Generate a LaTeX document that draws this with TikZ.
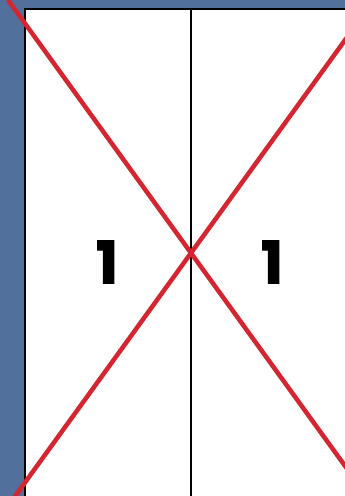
\documentclass[tikz,border=0pt]{standalone}
\usepackage{fontspec}
\setmainfont{Poppins}[BoldFont={* Bold}]
\newfontfamily\digitfont{Poppins Bold}[FakeBold=2]
\definecolor{bgblue}{HTML}{52709C}
\definecolor{xred}{HTML}{D42530}
\tikzset{
  panelline/.style={draw=black, line width=2pt},
  crossline/.style={draw=xred, line width=4.5pt},
  digit/.style={font=\digitfont\fontsize{58}{58}\selectfont, inner sep=0pt}
}
\begin{document}
\begin{tikzpicture}[x=1pt,y=-1pt]
\useasboundingbox (0,0) rectangle (345,496);
\fill[bgblue] (0,0) rectangle (345,496);
\fill[white] (25,9) rectangle (345,496);
\coordinate (tl) at (25,9);
\coordinate (tr) at (346,9);
\coordinate (bl) at (25,497);
\coordinate (mt) at (191,9);
\coordinate (mb) at (191,497);
\draw[panelline] (tr) -- (tl) -- (bl);
\draw[panelline] (mt) -- (mb);
\node[digit] (n1) at (107,262) {1};
\node[digit] (n2) at (272,262) {1};
\begin{scope}
\clip (0,0) rectangle (345,496);
\coordinate (a1) at (8,0);
\coordinate (a2) at (374,506);
\coordinate (b1) at (8,506);
\coordinate (b2) at (374,0);
\draw[crossline] (a1) -- (a2);
\draw[crossline] (b1) -- (b2);
\end{scope}
\end{tikzpicture}
\end{document}
